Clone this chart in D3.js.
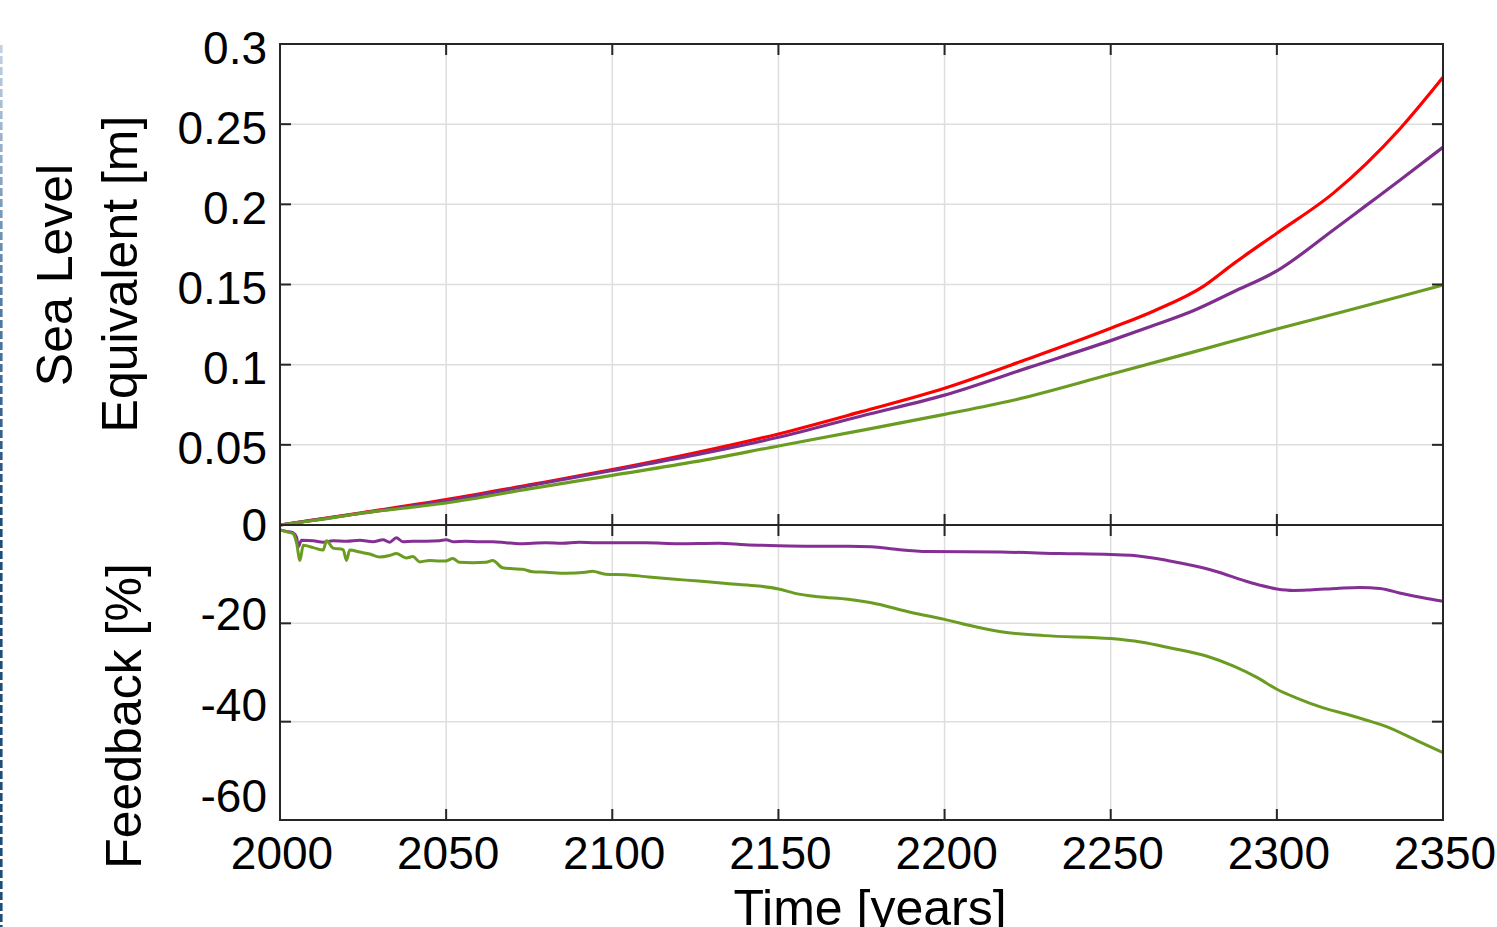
<!DOCTYPE html>
<html>
<head>
<meta charset="utf-8">
<script src="https://cdn.jsdelivr.net/npm/d3@7"></script>
<style>
  body { margin: 0; background: #fff; }
  svg { display: block; }
  text { font-family: "Liberation Sans", Arial, sans-serif; fill: #000; }
</style>
</head>
<body>
<div id="chart"></div>
<script>
// sea level equivalent [m], three runs
var redYears    = [2000, 2010, 2025, 2050, 2075, 2100, 2125, 2150, 2175, 2200, 2225, 2250, 2263, 2278, 2287, 2300, 2317, 2327, 2337, 2350];
var redSLE      = [0, 0.003, 0.0078, 0.0158, 0.025, 0.0345, 0.045, 0.0568, 0.0707, 0.0853, 0.1035, 0.1227, 0.1335, 0.149, 0.163, 0.182, 0.207, 0.2256, 0.247, 0.2792];
var purpleYears = [2000, 2010, 2025, 2050, 2075, 2100, 2125, 2150, 2175, 2200, 2225, 2250, 2262, 2275, 2287, 2300, 2317, 2327, 2337, 2350];
var purpleSLE   = [0, 0.003, 0.0075, 0.015, 0.0245, 0.034, 0.0437, 0.0547, 0.068, 0.081, 0.098, 0.115, 0.1238, 0.1338, 0.1455, 0.1585, 0.184, 0.1995, 0.215, 0.2356];
var greenYears  = [2000, 2010, 2025, 2050, 2075, 2100, 2125, 2150, 2175, 2200, 2220, 2250, 2275, 2300, 2325, 2350];
var greenSLE    = [0, 0.0028, 0.0075, 0.0137, 0.0225, 0.031, 0.0395, 0.0493, 0.059, 0.069, 0.0775, 0.094, 0.108, 0.1222, 0.1358, 0.1497];

// feedback [%]
var fbPurpleYears = [2000, 2002, 2004, 2005, 2005.5, 2006.5, 2010, 2013, 2016, 2020, 2024, 2028, 2031, 2033, 2035, 2037, 2040, 2044, 2048, 2050, 2052, 2056, 2060, 2064, 2068, 2072, 2076, 2080, 2085, 2090, 2095, 2100, 2110, 2120, 2132, 2140, 2150, 2160, 2171, 2178, 2186, 2195, 2217, 2235, 2250, 2257, 2267, 2275, 2281, 2292, 2300, 2305, 2310, 2318, 2325, 2331, 2338, 2344, 2350];
var fbPurple      = [-1.0, -1.3, -1.6, -2.5, -4.4, -3.1, -3.2, -3.5, -3.2, -3.3, -3.1, -3.4, -3.0, -3.5, -2.6, -3.4, -3.3, -3.3, -3.2, -3.0, -3.4, -3.3, -3.4, -3.4, -3.6, -3.8, -3.7, -3.6, -3.7, -3.5, -3.6, -3.6, -3.6, -3.8, -3.7, -4.0, -4.2, -4.3, -4.3, -4.4, -5.0, -5.4, -5.5, -5.8, -6.0, -6.2, -7.2, -8.3, -9.3, -11.7, -13.0, -13.3, -13.2, -12.9, -12.7, -12.9, -14.0, -14.8, -15.5];
var fbGreenYears  = [2000, 2002, 2004, 2005, 2006, 2007, 2010, 2013, 2014, 2016, 2019, 2020, 2021, 2024, 2027, 2030, 2033, 2035, 2038, 2040, 2042, 2045, 2048, 2050, 2052, 2054, 2058, 2062, 2064, 2067, 2070, 2073, 2076, 2080, 2086, 2092, 2094, 2098, 2104, 2110, 2118, 2126, 2136, 2144, 2150, 2155, 2162, 2171, 2178, 2190, 2200, 2210, 2217, 2230, 2250, 2259, 2268, 2279, 2287, 2294, 2300, 2306, 2314, 2321, 2327, 2333, 2342, 2350];
var fbGreen       = [-1.0, -1.4, -1.8, -3.7, -7.2, -4.1, -4.6, -5.1, -3.2, -4.7, -5.0, -7.2, -5.1, -5.5, -5.9, -6.5, -6.2, -5.8, -6.7, -6.4, -7.5, -7.2, -7.3, -7.3, -6.8, -7.6, -7.7, -7.6, -7.2, -8.7, -8.9, -9.0, -9.5, -9.6, -9.8, -9.6, -9.4, -10.0, -10.1, -10.5, -11.0, -11.4, -12.0, -12.4, -13.0, -13.9, -14.6, -15.1, -15.8, -17.8, -19.2, -20.8, -21.7, -22.5, -23.1, -23.8, -25.0, -26.7, -28.7, -31.0, -33.4, -35.2, -37.2, -38.5, -39.7, -41.0, -43.8, -46.3];

var xTicks   = [2000, 2050, 2100, 2150, 2200, 2250, 2300, 2350];
var topTicks = [0, 0.05, 0.1, 0.15, 0.2, 0.25, 0.3];
var botTicks = [-20, -40, -60];

var W = 1497, H = 927;
var left = 280, right = 1443;
var topY0 = 44, midY = 525, botY = 820;
var tickLen = 11;
var axisColor = "#262626", gridColor = "#dedede";

var svg = d3.select("#chart").append("svg")
    .attr("width", W)
    .attr("height", H);

// dashed blue edge on the left
var defs = svg.append("defs");
var grad = defs.append("linearGradient")
    .attr("id", "edgeGrad")
    .attr("gradientUnits", "userSpaceOnUse")
    .attr("x1", 0).attr("y1", 40).attr("x2", 0).attr("y2", 520);
grad.append("stop").attr("offset", "0").attr("stop-color", "#c4d4e4");
grad.append("stop").attr("offset", "0.5").attr("stop-color", "#5a82aa");
grad.append("stop").attr("offset", "1").attr("stop-color", "#1f4d7b");
svg.append("line")
    .attr("x1", 1.3).attr("x2", 1.3)
    .attr("y1", 45).attr("y2", H)
    .attr("stroke", "url(#edgeGrad)")
    .attr("stroke-width", 2.6)
    .attr("stroke-dasharray", "8,3");

var x = d3.scaleLinear().domain([2000, 2350]).range([left, right]);
var yTop = d3.scaleLinear().domain([0, 0.3]).range([midY, topY0]);
var yBot = d3.scaleLinear().domain([-60, 0]).range([botY, midY]);
// the feedback tick labels sit a little above their grid lines in the original
var yBotLab = d3.scaleLinear().domain([-60, 0]).range([795, 523]);

function pairs(xs, ys) {
    return xs.map(function(d, i) { return [d, ys[i]]; });
}

function panel(yScale, yTicks, y0, y1) {
    var g = svg.append("g");
    // grid
    g.selectAll(".vgrid").data(xTicks.slice(1, -1)).enter().append("line")
        .attr("x1", function(d) { return x(d); }).attr("x2", function(d) { return x(d); })
        .attr("y1", y0).attr("y2", y1)
        .attr("stroke", gridColor).attr("stroke-width", 1.5);
    g.selectAll(".hgrid").data(yTicks).enter().append("line")
        .attr("x1", left).attr("x2", right)
        .attr("y1", function(d) { return yScale(d); }).attr("y2", function(d) { return yScale(d); })
        .attr("stroke", gridColor).attr("stroke-width", 1.5);
    return g;
}

function frame(yScale, yTicks, y0, y1) {
    var g = svg.append("g").attr("stroke", axisColor).attr("stroke-width", 2);
    g.append("rect")
        .attr("x", left).attr("y", y0)
        .attr("width", right - left).attr("height", y1 - y0)
        .attr("fill", "none");
    xTicks.forEach(function(t) {
        g.append("line").attr("x1", x(t)).attr("x2", x(t)).attr("y1", y0).attr("y2", y0 + tickLen);
        g.append("line").attr("x1", x(t)).attr("x2", x(t)).attr("y1", y1).attr("y2", y1 - tickLen);
    });
    yTicks.forEach(function(t) {
        g.append("line").attr("x1", left).attr("x2", left + tickLen).attr("y1", yScale(t)).attr("y2", yScale(t));
        g.append("line").attr("x1", right).attr("x2", right - tickLen).attr("y1", yScale(t)).attr("y2", yScale(t));
    });
}

panel(yTop, topTicks.slice(1, -1), topY0, midY);
panel(yBot, botTicks.slice(0, -1), midY, botY);

var lineTop = d3.line()
    .x(function(d) { return x(d[0]); })
    .y(function(d) { return yTop(d[1]); })
    .curve(d3.curveMonotoneX);
var lineBot = d3.line()
    .x(function(d) { return x(d[0]); })
    .y(function(d) { return yBot(d[1]); })
    .curve(d3.curveMonotoneX);

var topSeries = [
    {data: pairs(redYears, redSLE), color: "#ff0000"},
    {data: pairs(purpleYears, purpleSLE), color: "#7e2f8e"},
    {data: pairs(greenYears, greenSLE), color: "#6b9c22"}
];
var botSeries = [
    {data: pairs(fbPurpleYears, fbPurple), color: "#842f94"},
    {data: pairs(fbGreenYears, fbGreen), color: "#6b9c22"}
];

svg.append("g").selectAll("path").data(topSeries).enter().append("path")
    .attr("d", function(d) { return lineTop(d.data); })
    .attr("fill", "none")
    .attr("stroke", function(d) { return d.color; })
    .attr("stroke-width", 3.2)
    .attr("stroke-linejoin", "round");

svg.append("g").selectAll("path").data(botSeries).enter().append("path")
    .attr("d", function(d) { return lineBot(d.data); })
    .attr("fill", "none")
    .attr("stroke", function(d) { return d.color; })
    .attr("stroke-width", 3)
    .attr("stroke-linejoin", "round");

frame(yTop, topTicks, topY0, midY);
frame(yBot, botTicks, midY, botY);

// tick labels
var fs = 46;
svg.append("g").selectAll("text").data(topTicks).enter().append("text")
    .attr("x", 267)
    .attr("y", function(d) { return yTop(d) + (d === 0 ? -1 : 3) + 16.5; })
    .attr("text-anchor", "end")
    .attr("font-size", fs)
    .text(function(d) { return d3.format("")(d); });

svg.append("g").selectAll("text").data(botTicks).enter().append("text")
    .attr("x", 267)
    .attr("y", function(d) { return yBotLab(d) + 16.5; })
    .attr("text-anchor", "end")
    .attr("font-size", fs)
    .text(function(d) { return d; });

svg.append("g").selectAll("text").data(xTicks).enter().append("text")
    .attr("x", function(d) { return x(d) + 2; })
    .attr("y", 869)
    .attr("text-anchor", "middle")
    .attr("font-size", fs)
    .text(function(d) { return d; });

// axis titles
function vTitle(txt, bx, cy) {
    svg.append("text")
        .attr("transform", "translate(" + bx + "," + cy + ") rotate(-90)")
        .attr("text-anchor", "middle")
        .attr("font-size", 50)
        .text(txt);
}
vTitle("Sea Level", 72, 275);
vTitle("Equivalent [m]", 137, 274);
vTitle("Feedback [%]", 141, 716);

// cut by the bottom edge in the original as well
svg.append("text")
    .attr("x", 870)
    .attr("y", 925)
    .attr("text-anchor", "middle")
    .attr("font-size", 50)
    .text("Time [years]");
</script>
</body>
</html>
